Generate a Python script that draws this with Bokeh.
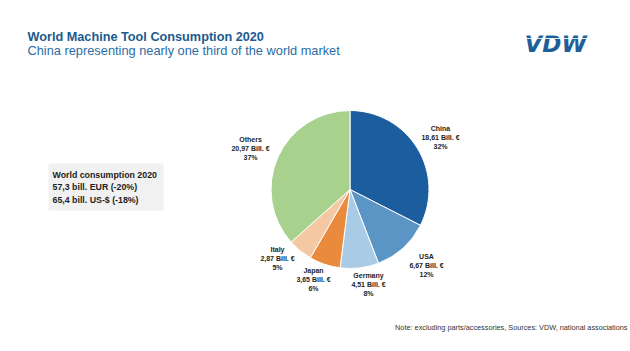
import math
from bokeh.plotting import figure
from bokeh.models import Range1d, ColumnDataSource
from bokeh.core.properties import value
from bokeh.embed import file_html
from bokeh.resources import INLINE

# ---- data ----
countries = ["China", "USA", "Germany", "Japan", "Italy", "Others"]
consumption = [18.61, 6.67, 4.51, 3.65, 2.87, 20.97]   # Bill. EUR
colors = ["#1b5d9e", "#5b95c6", "#a9cbe6", "#ea8a3c", "#f4c8a2", "#a9d18e"]
summary_lines = ["World consumption 2020", "57,3 bill. EUR (-20%)", "65,4 bill. US-$ (-18%)"]
title = "World Machine Tool Consumption 2020"
subtitle = "China representing nearly one third of the world market"
footnote = "Note: excluding parts/accessories, Sources: VDW, national associations"
logo = "VDW"

# ---- layout (pixel coordinates, y measured from top) ----
W, H = 630, 351
CX, CY, R = 349.5, 189, 79
LABEL_X = [440, 426, 368, 313, 277, 250]
LABEL_Y = [137, 265, 284, 279, 258, 148]
LINE_GAP = 9.3
FONT = value("Liberation Sans")


def Y(ypix):
    return H - ypix


p = figure(width=W, height=H, x_range=Range1d(0, W), y_range=Range1d(0, H),
           x_axis_type=None, y_axis_type=None, toolbar_location=None,
           output_backend="svg", min_border=0)
p.outline_line_color = None
p.grid.visible = False
p.background_fill_color = "white"
p.border_fill_color = "white"

# ---- pie ----
total = sum(consumption)
starts, ends, cum = [], [], 0.0
for v in consumption:
    a0 = math.pi / 2 - cum / total * 2 * math.pi
    cum += v
    a1 = math.pi / 2 - cum / total * 2 * math.pi
    starts.append(a1)
    ends.append(a0)

src = ColumnDataSource(dict(start=starts, end=ends, color=colors,
                            x=[CX] * len(countries), y=[Y(CY)] * len(countries)))
p.wedge(x="x", y="y", radius=R, start_angle="start", end_angle="end",
        fill_color="color", line_color="white", line_width=1.0, source=src)

# ---- slice labels ----
lx, ly, lt = [], [], []
for i, (c, v) in enumerate(zip(countries, consumption)):
    pct = round(v / total * 100)
    rows = [c, f"{v:.2f}".replace(".", ",") + " Bill. €", f"{pct}%"]
    for k, r in enumerate(rows):
        lx.append(LABEL_X[i])
        ly.append(Y(LABEL_Y[i] + (k - 1) * LINE_GAP))
        lt.append(r)
p.text(x=lx, y=ly, text=lt, text_font=FONT, text_font_size="7px",
       text_font_style="bold", text_color="#1e1e1e",
       text_align="center", text_baseline="middle")

# ---- title / subtitle ----
p.text(x=[27], y=[Y(36.5)], text=[title], text_font=FONT, text_font_size="12.7px",
       text_font_style="bold", text_color="#1d5a8f", text_baseline="middle")
p.text(x=[27], y=[Y(49.5)], text=[subtitle], text_font=FONT, text_font_size="12.8px",
       text_color="#2b6ca4", text_baseline="middle")

# ---- logo ----
p.text(x=[524], y=[Y(43)], text=[logo], text_font=value("DejaVu Sans"),
       text_font_size="23px", text_font_style="bold italic", text_color="#1d5f99",
       text_align="left", text_baseline="alphabetic")
p.segment(x0=[520, 520], y0=[Y(34.6), Y(38.0)], x1=[598, 598], y1=[Y(34.6), Y(38.0)],
          line_color="white", line_width=1.0, line_alpha=0.85)

# ---- summary box ----
p.quad(left=[48], right=[163], top=[Y(163)], bottom=[Y(210)],
       fill_color="#f1f1f1", line_color=None)
p.text(x=[52] * 3, y=[Y(174), Y(186.5), Y(199)], text=summary_lines, text_font=FONT,
       text_font_size="8.8px", text_font_style="bold", text_color="#1e1e1e",
       text_baseline="middle")

# ---- footnote ----
p.text(x=[627], y=[Y(327)], text=[footnote], text_font=FONT, text_font_size="7.3px",
       text_color="#333333", text_align="right", text_baseline="middle")

open("out.html", "w").write(file_html(p, INLINE))
